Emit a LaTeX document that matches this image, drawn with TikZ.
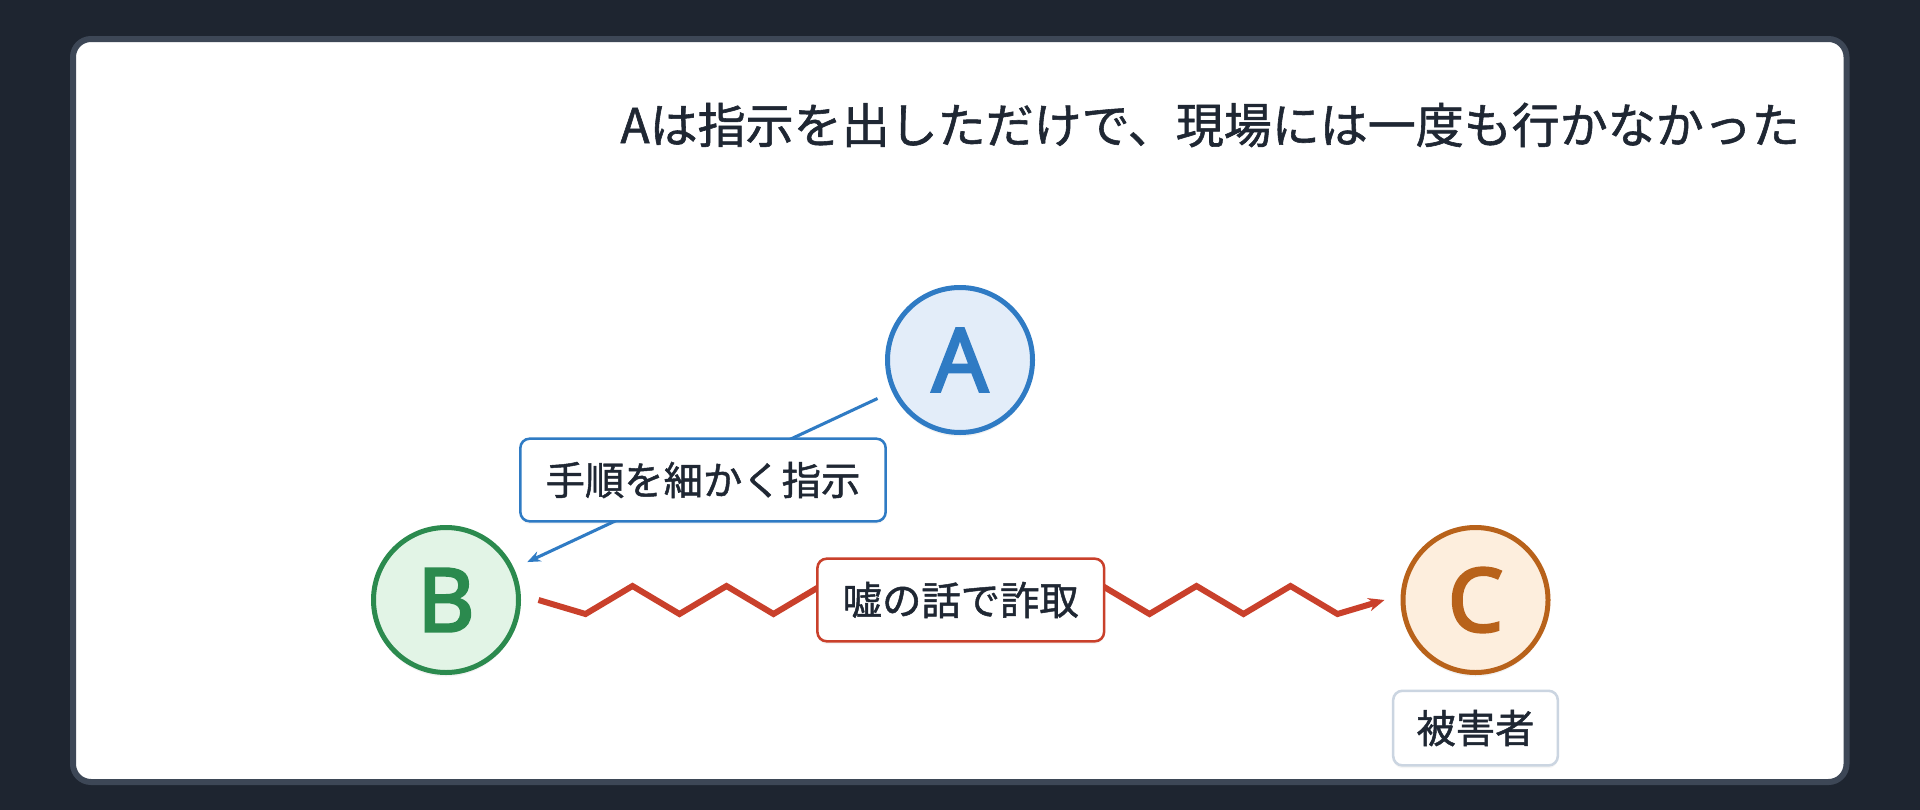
\documentclass[tikz,border=0pt]{standalone}
\usepackage{fontspec}
\setmainfont{Noto Sans CJK JP}[FakeBold=1.2]
\newfontfamily\letterfont{Noto Sans}[FakeBold=3]
\usetikzlibrary{arrows.meta,calc,shadows}
\definecolor{bg}{HTML}{1E2530}
\definecolor{panelborder}{HTML}{3D4756}
\definecolor{txt}{HTML}{1F2733}
\definecolor{ablue}{HTML}{2F7BC4}
\definecolor{afill}{HTML}{E3EDF9}
\definecolor{bgreen}{HTML}{2B8A4E}
\definecolor{bfill}{HTML}{E2F4E6}
\definecolor{corange}{HTML}{B8621A}
\definecolor{cfill}{HTML}{FDEEDD}
\definecolor{fred}{HTML}{C9402B}
\definecolor{graybd}{HTML}{CBD5E1}
\tikzset{
  person/.style={circle, minimum size=108.75pt, inner sep=0pt, line width=3.75pt,
    font=\letterfont\fontsize{66}{66}\selectfont,
    drop shadow={opacity=0.10, shadow xshift=0pt, shadow yshift=-3pt}},
  tag/.style={rectangle, rounded corners=7pt, fill=white, line width=1.9pt,
    text=txt, font=\fontsize{29.5}{29.5}\selectfont, inner xsep=19pt,
    minimum height=62pt,
    drop shadow={opacity=0.08, shadow xshift=0pt, shadow yshift=-2pt}},
  instr/.style={draw=ablue, line width=2.3pt, -{Stealth[length=10pt,width=8pt]}},
  fraud/.style={draw=fred, line width=4.5pt, line join=miter, -{Stealth[length=12pt,width=10pt]}}
}
\begin{document}
\begin{tikzpicture}[x=0.75pt,y=-0.75pt]
\fill[bg] (0,0) rectangle (1920,810);
\useasboundingbox (0,0) rectangle (1920,810);
\draw[fill=white, draw=panelborder, line width=4.5pt, rounded corners=13.5pt] (73,39) rectangle (1846.5,782);

\node[anchor=east, text=txt, font=\fontsize{36}{36}\selectfont, inner sep=0pt] (title) at (1800,125) {Aは指示を出しただけで、現場には一度も行かなかった};

\node[person, draw=ablue, fill=afill, text=ablue] (A) at (960,360) {A};
\node[person, draw=bgreen, fill=bfill, text=bgreen] (B) at (446,600) {B};
\node[person, draw=corange, fill=cfill, text=corange] (C) at (1475.5,600) {C};

\draw[instr, shorten <=12pt, shorten >=11pt] (A) -- (B)
  node[tag, draw=ablue, midway] (lab1) {手順を細かく指示};

\coordinate (zs) at ($(B.east)+(17.5,0)$);
\coordinate (ze) at ($(C.west)+(-16,0)$);
\draw[fraud] (zs) -- ++(47,14)
  \foreach \i in {1,...,8}{ -- ++(47,-28) -- ++(47,28) } -- (ze);
\node[tag, draw=fred] (lab2) at ($(B)!0.5!(C)$) {嘘の話で詐取};

\node[tag, draw=graybd, anchor=north, minimum height=56pt, inner xsep=17.5pt] (lab3) at ($(C.south)+(0,14.5)$) {被害者};
\end{tikzpicture}
\end{document}
